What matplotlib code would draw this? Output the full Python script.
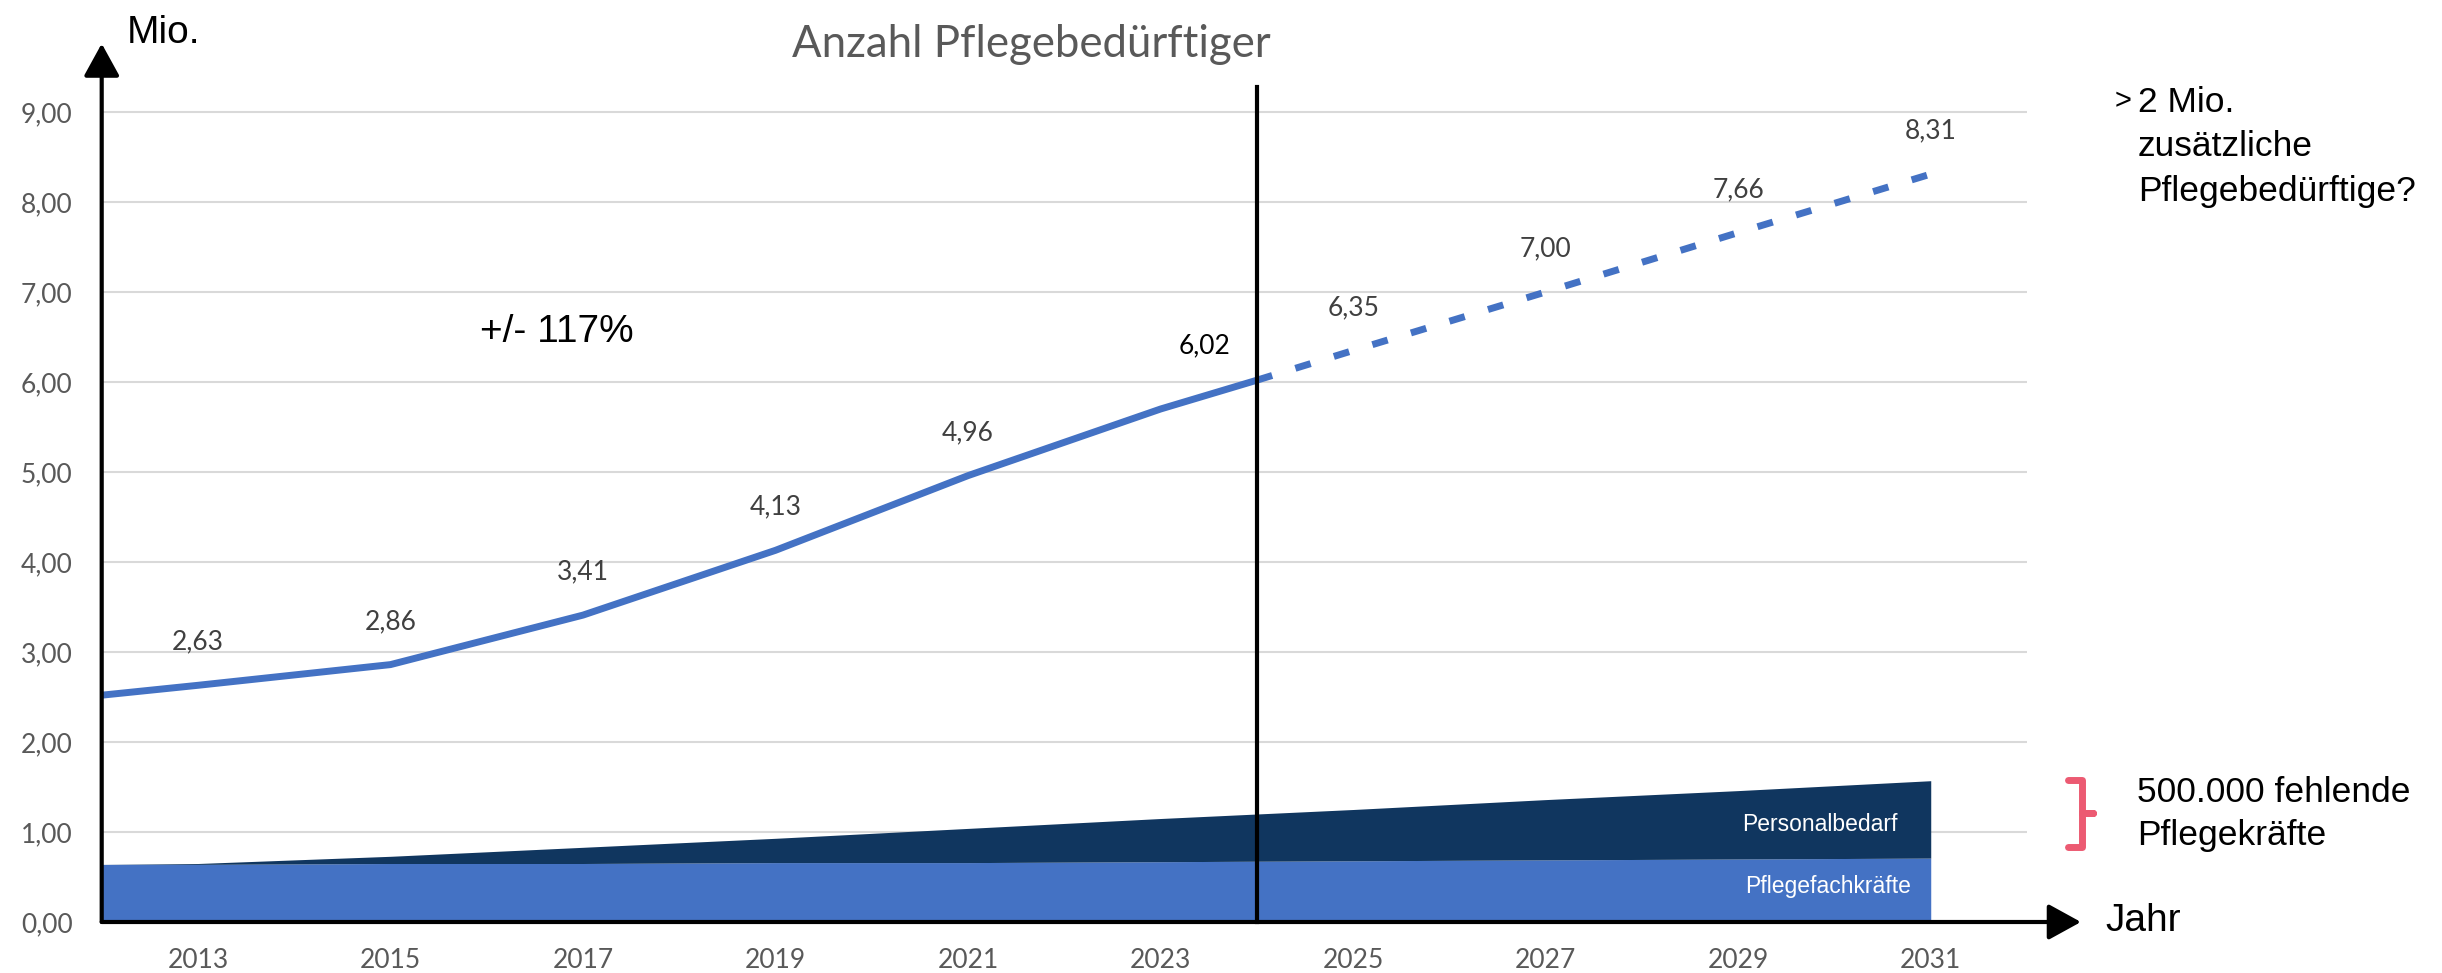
import matplotlib.pyplot as plt
from matplotlib.lines import Line2D

# Pflegebedürftige (Mio.), Ist-Werte und Prognose
years_ist = [2012, 2013, 2015, 2017, 2019, 2021, 2023, 2024]
values_ist = [2.52, 2.63, 2.86, 3.41, 4.13, 4.96, 5.70, 6.02]
years_prog = [2024, 2025, 2027, 2029, 2031]
values_prog = [6.02, 6.35, 7.00, 7.66, 8.31]

# Personal (Mio.)
years_area = [2012, 2013, 2015, 2017, 2019, 2021, 2023, 2025, 2027, 2029, 2031]
fachkraefte = [0.64, 0.64, 0.65, 0.65, 0.66, 0.66, 0.67, 0.68, 0.69, 0.70, 0.71]
bedarf = [0.64, 0.65, 0.73, 0.83, 0.93, 1.04, 1.15, 1.25, 1.36, 1.46, 1.57]

label_years = [2013, 2015, 2017, 2019, 2021, 2025, 2027, 2029, 2031]
xtick_years = list(range(2013, 2032, 2))
yticks = list(range(0, 10))
split_year = 2024

BLUE = "#4472C4"
NAVY = "#10365F"
GRID = "#D9D9D9"
GREY = "#595959"
LBL = "#404040"
ARIAL = "Liberation Sans"
CALIBRI = "Lato"

W, H = 2442, 973
fig = plt.figure(figsize=(W / 100, H / 100), dpi=100)
ax = fig.add_axes([101.7 / W, 51 / H, (2027 - 101.7) / W, (922 - 67) / H])
ax.set_xlim(2012, 2032)
ax.set_ylim(0, 9.5)
for s in ax.spines.values():
    s.set_visible(False)

ax.set_yticks(yticks)
ax.set_yticklabels([f"{v:.2f}".replace(".", ",") for v in yticks],
                   fontfamily=CALIBRI, fontsize=19, color=GREY)
ax.set_xticks(xtick_years)
ax.set_xticklabels([str(y) for y in xtick_years],
                   fontfamily=CALIBRI, fontsize=19, color=GREY)
ax.tick_params(axis="y", length=0, pad=21)
ax.tick_params(axis="x", length=0, pad=19)
ax.yaxis.grid(True, color=GRID, lw=1.5)
ax.set_axisbelow(True)

# areas
ax.fill_between(years_area, 0, fachkraefte, color=BLUE, lw=0, zorder=2)
ax.fill_between(years_area, fachkraefte, bedarf, color=NAVY, lw=0, zorder=2)
ax.text(2029.04, 1.08, "Personalbedarf", color="white", fontfamily=ARIAL,
        fontsize=16.5, va="center", zorder=3)
ax.text(2029.07, 0.39, "Pflegefachkräfte", color="white", fontfamily=ARIAL,
        fontsize=16.5, va="center", zorder=3)

# lines
ax.plot(years_ist, values_ist, color=BLUE, lw=5, solid_capstyle="butt", zorder=4)
ax.plot(years_prog, values_prog, color=BLUE, lw=5, dashes=(2.3, 3.5),
        dash_capstyle="butt", zorder=4)

all_years = years_ist + years_prog[1:]
all_vals = values_ist + values_prog[1:]
for y, v in zip(all_years, all_vals):
    if y in label_years:
        ax.annotate(f"{v:.2f}".replace(".", ","), (y, v), xytext=(0, 31),
                    textcoords="offset points", ha="center", va="center",
                    fontfamily=CALIBRI, fontsize=19, color=LBL)
ax.annotate(f"{values_ist[-1]:.2f}".replace(".", ","), (split_year, values_ist[-1]),
            xytext=(-38, 24.5), textcoords="offset points", ha="center",
            va="center", fontfamily=CALIBRI, fontsize=19, color="black")

# split line
ax.plot([split_year, split_year], [0, 9.28], color="black", lw=3, zorder=5,
        clip_on=False)

# axes arrows
arrow = dict(arrowstyle="-|>,head_length=0.4,head_width=0.22", lw=3,
             color="black", mutation_scale=50, shrinkA=0, shrinkB=0)
ax.annotate("", xy=(2012, 9.76), xytext=(2012, 0), arrowprops=arrow,
            annotation_clip=False, zorder=6)
ax.annotate("", xy=(2032.56, 0), xytext=(2012, 0), arrowprops=arrow,
            annotation_clip=False, zorder=6)

ax.text(2015.93, 6.56, "+/- 117%", fontfamily=ARIAL, fontsize=28, va="center")

# texts outside the plot
def ftext(x, y, s, **kw):
    fig.text(x / W, 1 - y / H, s, **kw)

ftext(127, 43, "Mio.", fontfamily=ARIAL, fontsize=28, va="baseline")
ftext(2105, 921, "Jahr", fontfamily=ARIAL, fontsize=28, va="center")
ftext(1031, 57, "Anzahl Pflegebedürftiger", fontfamily=CALIBRI, fontsize=31.5,
      color=GREY, ha="center", va="baseline")

ftext(2115, 101, ">", fontfamily=ARIAL, fontsize=21, va="center")
ftext(2138, 103, "2 Mio.", fontfamily=ARIAL, fontsize=25.5, va="center")
ftext(2138, 147, "zusätzliche", fontfamily=ARIAL, fontsize=25.5, va="center")
ftext(2138, 191, "Pflegebedürftige?", fontfamily=ARIAL, fontsize=25.5, va="center")

ftext(2137, 792, "500.000 fehlende", fontfamily=ARIAL, fontsize=25.5, va="center")
ftext(2137, 836, "Pflegekräfte", fontfamily=ARIAL, fontsize=25.5, va="center")

bx = [2068, 2081.5, 2081.5, 2093, 2081.5, 2081.5, 2068]
by = [780, 780, 813, 813, 813, 847, 847]
fig.add_artist(Line2D([x / W for x in bx], [1 - y / H for y in by],
                      transform=fig.transFigure, color="#EC5A72", lw=5,
                      solid_joinstyle="round", solid_capstyle="round"))

fig.savefig("out.png", dpi=100)
